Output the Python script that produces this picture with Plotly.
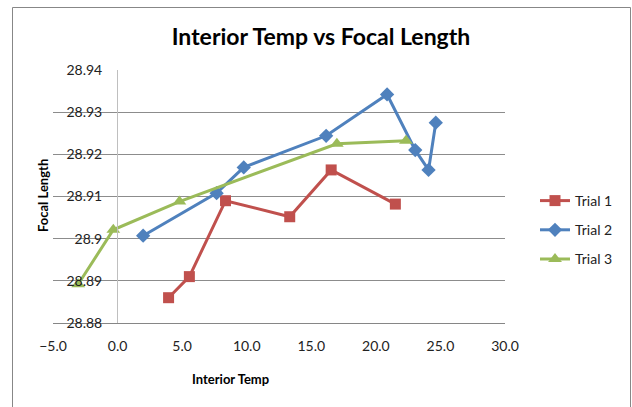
import plotly.graph_objects as go

trial1_x = [3.95, 5.56, 8.36, 13.33, 16.54, 21.51]
trial1_y = [28.8860, 28.8910, 28.9090, 28.9052, 28.9163, 28.9082]

trial2_x = [1.98, 7.67, 9.77, 16.15, 20.87, 23.05, 24.08, 24.64]
trial2_y = [28.9007, 28.9108, 28.9169, 28.9244, 28.9342, 28.9210, 28.9163, 28.9275]

trial3_x = [-3.05, -0.33, 4.79, 16.98, 22.33]
trial3_y = [28.8892, 28.9021, 28.9088, 28.9225, 28.9232]

title_text = "Interior Temp vs Focal Length"
x_title = "Interior Temp"
y_title = "Focal Length"

FONT = "Lato"
W, H = 632, 407
L, R, T, B = 53, 127, 70, 84
pw, ph = W - L - R, H - T - B

def px2paper_x(px):
    return (px - L) / pw

def px2paper_y(py):
    return (H - B - py) / ph

fig = go.Figure()
fig.add_trace(go.Scatter(x=trial1_x, y=trial1_y, name="Trial 1", mode="lines+markers",
                         legendgroup="1",
                         line=dict(color="#C0504D", width=3),
                         marker=dict(symbol="square", size=11, color="#C0504D")))
fig.add_trace(go.Scatter(x=trial2_x, y=trial2_y, name="Trial 2", mode="lines+markers",
                         legendgroup="2",
                         line=dict(color="#4F81BD", width=3),
                         marker=dict(symbol="diamond", size=11, color="#4F81BD")))
fig.add_trace(go.Scatter(x=trial3_x, y=trial3_y, name="Trial 3", mode="lines+markers",
                         legendgroup="3",
                         line=dict(color="#9BBB59", width=3),
                         marker=dict(symbol="triangle-up", size=12, color="#9BBB59")))

fig.update_layout(
    width=W, height=H,
    margin=dict(l=L, r=R, t=T, b=B),
    paper_bgcolor="white", plot_bgcolor="white",
    font=dict(family=FONT, size=14, color="#222222"),
    title=dict(text="<b>" + title_text + "</b>", x=321 / W,
               xanchor="center", y=1 - 37 / H, yanchor="middle",
               font=dict(family=FONT, size=23, color="black")),
    xaxis=dict(range=[-5, 30], dtick=5, tick0=-5, tickformat=".1f",
               showgrid=False, zeroline=False, showline=True, linecolor="#868686",
               linewidth=1, ticks="", ticklabelstandoff=10,
               tickfont=dict(family=FONT, size=14, color="#222222")),
    yaxis=dict(range=[28.88, 28.94], dtick=0.01, tick0=28.88,
               anchor="free", position=px2paper_x(117),
               showgrid=True, gridcolor="#8C8C8C", gridwidth=1,
               zeroline=False, showline=True, linecolor="#BFBFBF", linewidth=1,
               ticks="", ticklabelstandoff=12,
               tickfont=dict(family=FONT, size=14, color="#222222")),
    legend=dict(x=px2paper_x(535), y=px2paper_y(230), xanchor="left", yanchor="middle",
                traceorder="grouped", tracegroupgap=8,
                font=dict(family=FONT, size=14, color="#222222"),
                bgcolor="rgba(0,0,0,0)"),
    showlegend=True,
)

fig.add_annotation(text="<b>" + x_title + "</b>", xref="paper", yref="paper",
                   x=px2paper_x(230), y=px2paper_y(379), showarrow=False,
                   xanchor="center", yanchor="middle",
                   font=dict(family=FONT, size=13, color="black"))
fig.add_annotation(text="<b>" + y_title + "</b>", xref="paper", yref="paper",
                   x=px2paper_x(43), y=px2paper_y(196), showarrow=False, textangle=-90,
                   xanchor="center", yanchor="middle",
                   font=dict(family=FONT, size=13, color="black"))

fig.add_shape(type="rect", xref="paper", yref="paper",
              x0=px2paper_x(12.5), x1=px2paper_x(630.5),
              y0=px2paper_y(415), y1=px2paper_y(7.5),
              line=dict(color="#878787", width=1), fillcolor="rgba(0,0,0,0)", layer="below")

fig.write_html("out.html", config={"displayModeBar": False},
               post_script="document.body.style.margin='0';document.body.style.overflow='hidden';")
